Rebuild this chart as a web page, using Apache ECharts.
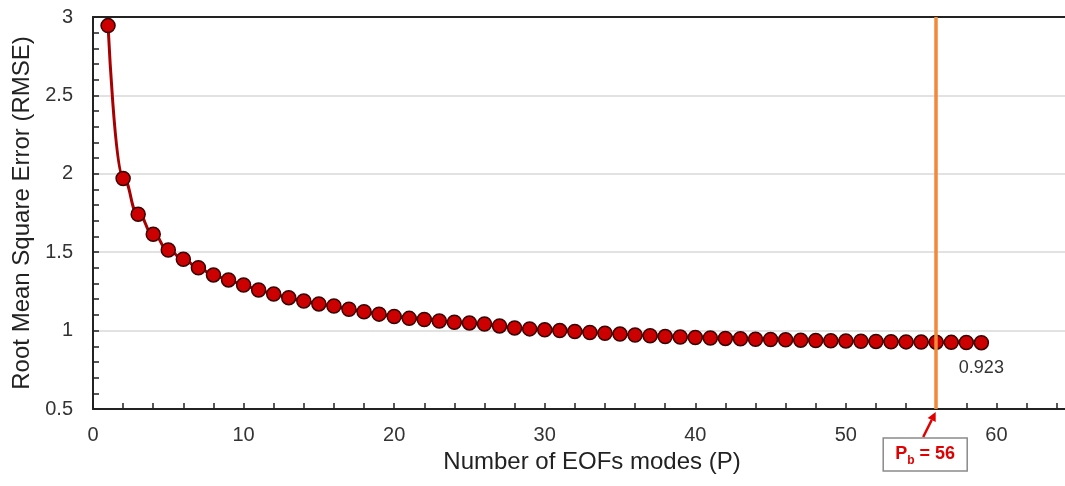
<!DOCTYPE html>
<html>
<head>
<meta charset="utf-8">
<script src="https://cdn.jsdelivr.net/npm/echarts@6/dist/echarts.min.js"></script>
<style>
  html, body { margin: 0; padding: 0; background: #fff; overflow: hidden; }
  /* the plot area runs on past the right edge of the view */
  #chart { width: 1147px; height: 486px; }
</style>
</head>
<body>
<div id="chart"></div>
<script>
// Number of EOF modes retained (P)
const modes = [1, 2, 3, 4, 5, 6, 7, 8, 9, 10,
  11, 12, 13, 14, 15, 16, 17, 18, 19, 20,
  21, 22, 23, 24, 25, 26, 27, 28, 29, 30,
  31, 32, 33, 34, 35, 36, 37, 38, 39, 40,
  41, 42, 43, 44, 45, 46, 47, 48, 49, 50,
  51, 52, 53, 54, 55, 56, 57, 58, 59];

// Reconstruction RMSE for each number of modes
const rmse = [2.945, 1.970, 1.742, 1.614, 1.514, 1.455, 1.401, 1.355, 1.323, 1.291,
  1.259, 1.233, 1.210, 1.189, 1.170, 1.157, 1.136, 1.120, 1.105, 1.090,
  1.078, 1.071, 1.061, 1.053, 1.049, 1.042, 1.030, 1.017, 1.011, 1.005,
  1.000, 0.994, 0.988, 0.983, 0.978, 0.972, 0.967, 0.962, 0.959, 0.956,
  0.953, 0.950, 0.948, 0.945, 0.943, 0.941, 0.939, 0.937, 0.935, 0.934,
  0.932, 0.931, 0.929, 0.928, 0.927, 0.926, 0.925, 0.924, 0.923];

// Selected break point
const breakMode = 56;

const xMin = 0, xMax = 70, xStep = 10;
const yMin = 0.5, yMax = 3, yStep = 0.5;

const FONT = '"Liberation Sans", Arial, sans-serif';
const INK = '#222';

const chart = echarts.init(document.getElementById('chart'), null, { renderer: 'canvas' });

const points = modes.map((p, i) => {
  const item = { value: [p, rmse[i]] };
  if (i === modes.length - 1) {
    item.label = {
      show: true,
      position: 'bottom',
      distance: 9,
      formatter: (d) => d.value[1].toFixed(3),
      color: '#333',
      fontSize: 18,
      fontFamily: FONT
    };
  }
  return item;
});

chart.setOption({
  animation: false,
  backgroundColor: '#fff',
  grid: { left: 93, top: 17, bottom: 77, right: 0, containLabel: false, outerBoundsMode: 'none' },
  xAxis: [{
    type: 'value',
    min: xMin, max: xMax, interval: xStep,
    name: 'Number of EOFs modes (P)',
    nameLocation: 'middle',
    nameGap: 41,
    nameTextStyle: { fontSize: 24, color: INK, fontFamily: FONT, padding: [0, 56, 0, 0] },
    axisLine: { show: true, onZero: false, lineStyle: { color: INK, width: 2 } },
    axisTick: { show: true, inside: true, length: 6, lineStyle: { color: INK, width: 1.5 } },
    minorTick: { show: true, splitNumber: 5, length: 6, lineStyle: { color: INK, width: 1.5 } },
    axisLabel: { fontSize: 20, color: '#333', fontFamily: FONT, margin: 16 },
    splitLine: { show: false }
  }, {
    type: 'value',
    position: 'top',
    min: xMin, max: xMax, interval: xStep,
    axisLine: { show: true, onZero: false, lineStyle: { color: INK, width: 2 } },
    axisTick: { show: false },
    axisLabel: { show: false },
    splitLine: { show: false }
  }],
  yAxis: {
    type: 'value',
    min: yMin, max: yMax, interval: yStep,
    name: 'Root Mean Square Error (RMSE)',
    nameLocation: 'middle',
    nameGap: 56,
    nameTextStyle: { fontSize: 24, color: INK, fontFamily: FONT },
    axisLine: { show: true, onZero: false, lineStyle: { color: INK, width: 2 } },
    axisTick: { show: true, inside: true, length: 6, lineStyle: { color: INK, width: 1.5 } },
    minorTick: { show: true, splitNumber: 5, length: 6, lineStyle: { color: INK, width: 1.5 } },
    axisLabel: { fontSize: 20, color: '#333', fontFamily: FONT, margin: 20 },
    splitLine: { show: true, lineStyle: { color: '#d9d9d9', width: 1.5 } }
  },
  series: [{
    type: 'line',
    data: points,
    smooth: 0.5,
    smoothMonotone: 'x',
    symbol: 'circle',
    symbolSize: 14,
    lineStyle: { color: '#a80000', width: 3 },
    itemStyle: { color: '#cc0000', borderColor: '#3a0000', borderWidth: 1.5 },
    markLine: {
      silent: true,
      symbol: 'none',
      label: { show: false },
      lineStyle: { color: '#f08a38', width: 3.5, type: 'solid' },
      data: [{ xAxis: breakMode }],
      z: 5
    }
  }]
});

// Break-point callout below the axis, anchored to the break mode position
const anchor = chart.convertToPixel({ xAxisIndex: 0, yAxisIndex: 0 }, [breakMode, yMin]);
const ax = anchor[0], ay = anchor[1];
const boxW = 84, boxH = 33;
const boxX = ax - 53, boxY = ay + 29;
const tail = [ax - 13, ay + 28];
const tip = [ax - 0.5, ay + 3];
const dx = tip[0] - tail[0], dy = tip[1] - tail[1];
const len = Math.sqrt(dx * dx + dy * dy);
const ux = dx / len, uy = dy / len;
const headLen = 9, headHalf = 4.5;
const baseX = tip[0] - ux * headLen, baseY = tip[1] - uy * headLen;

chart.setOption({
  graphic: [
    {
      type: 'rect',
      shape: { x: boxX, y: boxY, width: boxW, height: boxH },
      style: { fill: '#fff', stroke: '#8a8a8a', lineWidth: 1.5 },
      z: 10
    },
    {
      type: 'text',
      x: boxX + boxW / 2,
      y: boxY + boxH / 2,
      style: {
        text: '{p|P}{s|b}{p| = ' + breakMode + '}',
        align: 'center',
        verticalAlign: 'middle',
        rich: {
          p: { fontSize: 18, fontWeight: 'bold', fill: '#e00000', fontFamily: FONT, lineHeight: 22 },
          s: { fontSize: 12, fontWeight: 'bold', fill: '#e00000', fontFamily: FONT, lineHeight: 22, padding: [12, 0, 0, 0] }
        }
      },
      z: 11
    },
    {
      type: 'line',
      shape: { x1: tail[0], y1: tail[1], x2: baseX, y2: baseY },
      style: { stroke: '#e00000', lineWidth: 2.5 },
      z: 12
    },
    {
      type: 'polygon',
      shape: {
        points: [
          tip,
          [baseX - uy * headHalf, baseY + ux * headHalf],
          [baseX + uy * headHalf, baseY - ux * headHalf]
        ]
      },
      style: { fill: '#e00000' },
      z: 12
    }
  ]
});
</script>
</body>
</html>
